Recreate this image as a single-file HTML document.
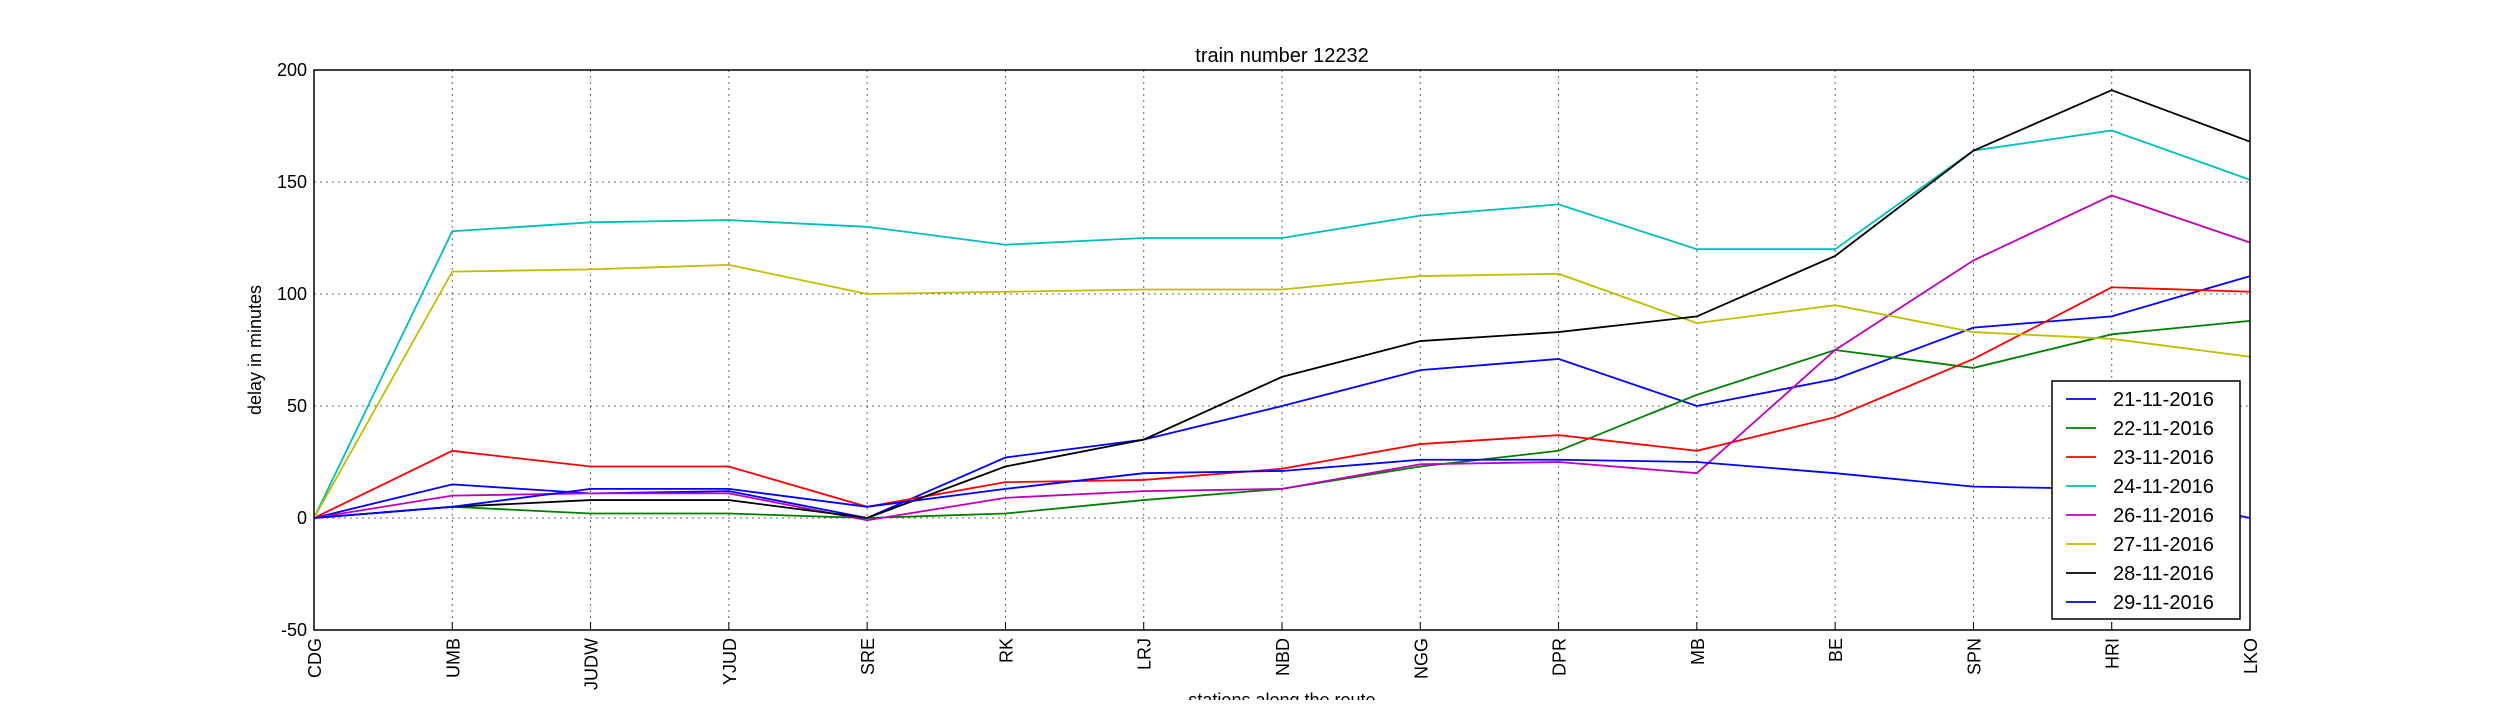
<!DOCTYPE html>
<html><head><meta charset="utf-8"><style>
body{margin:0;background:#fff;}
svg text{font-family:"Liberation Sans","DejaVu Sans",sans-serif;}
</style></head><body>
<svg id="chart" width="2500" height="700" xmlns="http://www.w3.org/2000/svg">
<rect width="2500" height="700" fill="#fff"/>
<g id="grid"></g><g id="series"></g><g id="axes"></g><g id="legend"></g>
</svg>
<script>
const stations = ["CDG","UMB","JUDW","YJUD","SRE","RK","LRJ","NBD","NGG","DPR","MB","BE","SPN","HRI","LKO"];
const yTicks = [-50,0,50,100,150,200];
const seriesNames = ["21-11-2016","22-11-2016","23-11-2016","24-11-2016","26-11-2016","27-11-2016","28-11-2016","29-11-2016"];
const seriesColors = ["#0000ff","#008000","#ff0000","#00bfbf","#bf00bf","#bfbf00","#000000","#0000ff"];
const s21 = [0,15,11,12,0,27,35,50,66,71,50,62,85,90,108];
const s22 = [0,5,2,2,0,2,8,13,23,30,55,75,67,82,88];
const s23 = [0,30,23,23,5,16,17,22,33,37,30,45,71,103,101];
const s24 = [0,128,132,133,130,122,125,125,135,140,120,120,164,173,151];
const s26 = [0,10,11,11,-1,9,12,13,24,25,20,75,115,144,123];
const s27 = [0,110,111,113,100,101,102,102,108,109,87,95,83,80,72];
const s28 = [0,5,8,8,0,23,35,63,79,83,90,117,164,191,168];
const s29 = [0,5,13,13,5,13,20,21,26,26,25,20,14,13,0];
const allSeries = [s21,s22,s23,s24,s26,s27,s28,s29];

const L=314,R=2250,T=70,B=630,yMin=-50,yMax=200;
const xs=i=>L+(R-L)*i/(stations.length-1);
const ys=v=>B-(v-yMin)/(yMax-yMin)*(B-T);
const NS="http://www.w3.org/2000/svg";
function mk(tag,attrs,parent){const e=document.createElementNS(NS,tag);for(const k in attrs)e.setAttribute(k,attrs[k]);parent.appendChild(e);return e;}
const grid=document.getElementById('grid'),ser=document.getElementById('series'),ax=document.getElementById('axes'),lg=document.getElementById('legend');

stations.forEach((s,i)=>{
  const g=mk('line',{x1:xs(i),x2:xs(i),y1:T,y2:B,stroke:'#000','stroke-width':1,'stroke-dasharray':'2,4','stroke-opacity':0.6},grid);
  
  
  const tk=mk('line',{x1:xs(i),x2:xs(i),y1:B,y2:B-8,stroke:'#000'},ax);
  
  
  const t=mk('text',{x:0,y:0,'font-size':18,'text-anchor':'end',transform:`translate(${xs(i)+7},${B+8}) rotate(-90)`},ax);
  t.textContent=s;
  
  
});
yTicks.forEach(v=>{
  const g=mk('line',{x1:L,x2:R,y1:ys(v),y2:ys(v),stroke:'#000','stroke-width':1,'stroke-dasharray':'2,4','stroke-opacity':0.6},grid);
  
  
  const t=mk('text',{x:L-7,y:ys(v)+6,'font-size':18,'text-anchor':'end'},ax);
  t.textContent=v;
  
  
});
allSeries.forEach((d,k)=>{
  const p=mk('polyline',{points:d.map((v,i)=>xs(i)+','+ys(v)).join(' '),fill:'none',stroke:seriesColors[k],'stroke-width':1.8},ser);
  
  
});
const frame=mk('rect',{x:L,y:T,width:R-L,height:B-T,fill:'none',stroke:'#000','stroke-width':1.5},ax);


const title=mk('text',{x:(L+R)/2,y:62,'font-size':20,'text-anchor':'middle'},ax);
title.textContent='train number 12232';


const xt=mk('text',{x:(L+R)/2,y:706,'font-size':18,'text-anchor':'middle'},ax);
xt.textContent='stations along the route';


const yt=mk('text',{x:0,y:0,'font-size':18,'text-anchor':'middle',transform:`translate(261,${(T+B)/2}) rotate(-90)`},ax);
yt.textContent='delay in minutes';


const box=mk('rect',{x:2052,y:381,width:188,height:238,fill:'#fff',stroke:'#000','stroke-width':1.5},lg);


seriesNames.forEach((n,k)=>{
  const y=399+k*29;
  const l=mk('line',{x1:2066,x2:2096,y1:y,y2:y,stroke:seriesColors[k],'stroke-width':1.8},lg);
  
  
  const t=mk('text',{x:2113,y:y+7,'font-size':20},lg);
  t.textContent=n;
  
  
});
</script>
</body></html>
